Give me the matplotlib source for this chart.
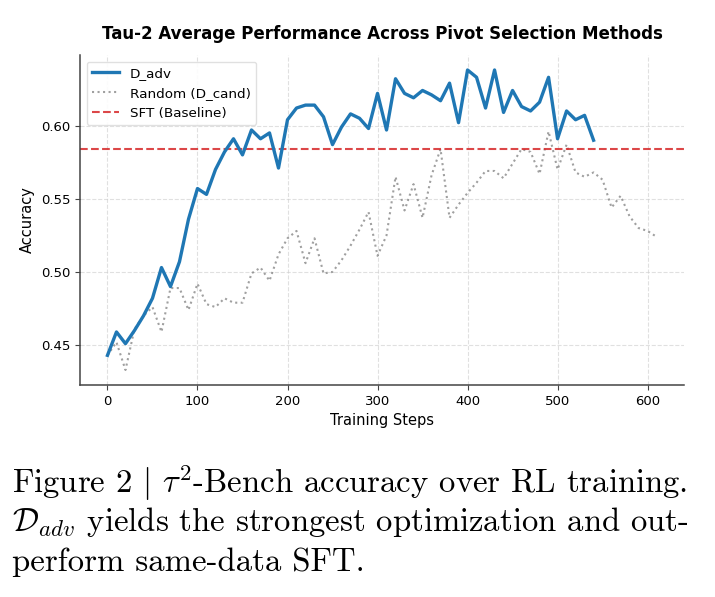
import matplotlib
matplotlib.use("Agg")
import matplotlib.pyplot as plt

# values
steps_adv = [0, 10, 20, 30, 40, 50, 60, 70, 80, 90,
             100, 110, 120, 130, 140, 150, 160, 170, 180, 190,
             200, 210, 220, 230, 240, 250, 260, 270, 280, 290,
             300, 310, 320, 330, 340, 350, 360, 370, 380, 390,
             400, 410, 420, 430, 440, 450, 460, 470, 480, 490,
             500, 510, 520, 530, 540]
acc_adv = [0.443, 0.459, 0.451, 0.460, 0.470, 0.482, 0.503, 0.490, 0.507, 0.536,
           0.557, 0.553, 0.570, 0.582, 0.591, 0.580, 0.597, 0.591, 0.595, 0.571,
           0.604, 0.612, 0.614, 0.614, 0.606, 0.587, 0.599, 0.608, 0.605, 0.598,
           0.622, 0.597, 0.632, 0.622, 0.619, 0.624, 0.621, 0.617, 0.629, 0.602,
           0.638, 0.633, 0.612, 0.638, 0.609, 0.624, 0.613, 0.610, 0.616, 0.633,
           0.591, 0.610, 0.604, 0.607, 0.590]

steps_rand = [0, 10, 20, 30, 40, 50, 60, 70, 80, 90,
              100, 110, 120, 130, 140, 150, 160, 170, 180, 190,
              200, 210, 220, 230, 240, 250, 260, 270, 280, 290,
              300, 310, 320, 330, 340, 350, 360, 370, 380, 390,
              400, 410, 420, 430, 440, 450, 460, 470, 480, 490,
              500, 510, 520, 530, 540, 550, 560, 570, 580, 590,
              600, 610]
acc_rand = [0.443, 0.452, 0.433, 0.461, 0.470, 0.476, 0.459, 0.489, 0.489, 0.474,
            0.492, 0.478, 0.476, 0.482, 0.479, 0.479, 0.499, 0.503, 0.494, 0.512,
            0.523, 0.528, 0.506, 0.523, 0.499, 0.500, 0.508, 0.518, 0.529, 0.541,
            0.511, 0.525, 0.565, 0.542, 0.560, 0.537, 0.566, 0.584, 0.537, 0.546,
            0.554, 0.561, 0.569, 0.569, 0.564, 0.574, 0.584, 0.582, 0.567, 0.596,
            0.570, 0.587, 0.568, 0.565, 0.568, 0.563, 0.544, 0.552, 0.538, 0.530,
            0.528, 0.524]

sft_baseline = 0.584

plt.rcParams["mathtext.fontset"] = "cm"

fig = plt.figure(figsize=(7.15, 5.97), dpi=100)
ax = fig.add_axes([0.1119, 0.3551, 0.8448, 0.5528])

ax.plot(steps_adv, acc_adv, color="#1f77b4", lw=2.4, label="D_adv", zorder=3)
ax.plot(steps_rand, acc_rand, color="gray", lw=1.5, ls=":", alpha=0.75,
        label="Random (D_cand)", zorder=2)
ax.axhline(sft_baseline, color="#d62728", lw=1.5, ls="--", alpha=0.85,
           label="SFT (Baseline)", zorder=2)

ax.grid(True, ls="--", lw=0.8, color="#cccccc", alpha=0.6)
ax.set_axisbelow(True)
ax.spines["top"].set_visible(False)
ax.spines["right"].set_visible(False)
for side in ["left", "bottom"]:
    ax.spines[side].set_color("#444444")
    ax.spines[side].set_linewidth(1.1)

ax.set_xticks([0, 100, 200, 300, 400, 500, 600])
ax.set_yticks([0.45, 0.50, 0.55, 0.60])
ax.tick_params(labelsize=9.5, color="#444444")
ax.set_xlabel("Training Steps", fontsize=10.5)
ax.set_ylabel("Accuracy", fontsize=10.5)
ax.set_title("Tau-2 Average Performance Across Pivot Selection Methods",
             fontsize=12, fontweight="bold", pad=11.5)

ax.legend(loc="upper left", fontsize=9.7, framealpha=0.9, edgecolor="#dddddd",
          borderaxespad=0.5)

cap = dict(fontfamily="cmr10", fontsize=23.6, va="baseline", ha="left")
fig.text(12 / 715, 1 - 493 / 597,
         r"Figure 2 $|$ $\tau^2$-Bench accuracy over RL training.", **cap)
fig.text(12 / 715, 1 - 531 / 597,
         r"$\mathcal{D}_{adv}$ yields the strongest optimization and out-", **cap)
fig.text(12 / 715, 1 - 571 / 597, "perform same-data SFT.", **cap)

fig.savefig("out.png", dpi=100)
plt.close(fig)
